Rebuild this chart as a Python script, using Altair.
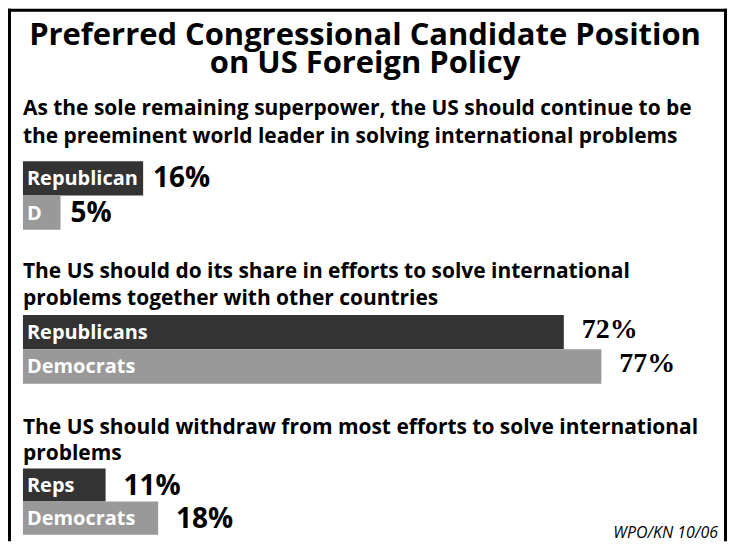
import altair as alt
import pandas as pd

# ---- data ----
title_lines = ["Preferred Congressional Candidate Position", "on US Foreign Policy"]
q1_lines = ["As the sole remaining superpower, the US should continue to be",
            "the preeminent world leader in solving international problems"]
q2_lines = ["The US should do its share in efforts to solve international",
            "problems together with other countries"]
q3_lines = ["The US should withdraw from most efforts to solve international",
            "problems"]
parties = ["Republicans", "Democrats"]
labels1 = ["Republican", "D"]
values1 = [16, 5]
labels2 = ["Republicans", "Democrats"]
values2 = [72, 77]
labels3 = ["Reps", "Democrats"]
values3 = [11, 18]
source_note = "WPO/KN 10/06"

# ---- style ----
FONT = "Open Sans"
DARK, LIGHT = "#333333", "#999999"
W = 690
XMAX = 91.6
x_scale = alt.Scale(domain=[0, XMAX], nice=False, zero=True)
color_scale = alt.Scale(domain=parties, range=[DARK, LIGHT])


def text_chart(text):
    return alt.Chart(pd.DataFrame({"t": [text]}))


def panel(labels, values, question, height, q_y, q_lh, val_font, val_size,
          val_dx, val_dy, extra=None):
    df = pd.DataFrame({
        "party": parties,
        "label": labels,
        "value": values,
        "pct": [f"{v}%" for v in values],
    })
    base = alt.Chart(df).encode(
        y=alt.Y("party:N", sort=parties, axis=None,
                scale=alt.Scale(paddingInner=0, paddingOuter=0))
    )
    bars = base.mark_bar().encode(
        x=alt.X("value:Q", scale=x_scale, axis=None),
        color=alt.Color("party:N", scale=color_scale, legend=None),
    )
    inner = base.mark_text(
        align="left", baseline="middle", dx=4, dy=1, color="white",
        font=FONT, fontWeight="bold", fontSize=20,
    ).encode(x=alt.value(0), text="label:N")
    outer = base.mark_text(
        align="left", baseline="middle", dx=val_dx, dy=val_dy, color="black",
        font=val_font, fontWeight="bold", fontSize=val_size,
    ).encode(x=alt.X("value:Q", scale=x_scale, axis=None), text="pct:N")
    q = text_chart("\n".join(question)).mark_text(
        align="left", baseline="alphabetic", lineBreak="\n", lineHeight=q_lh,
        font=FONT, fontWeight="bold", fontSize=21, color="black",
    ).encode(x=alt.value(0), y=alt.value(q_y), text="t:N")
    layers = [bars, inner, outer, q]
    if extra is not None:
        layers += extra
    return alt.layer(*layers).properties(width=W, height=height)


# header: main title and frame
header_text = text_chart("\n".join(title_lines)).mark_text(
    align="center", baseline="alphabetic", lineBreak="\n", lineHeight=28,
    font=FONT, fontWeight="bold", fontSize=31, color="black",
).encode(x=alt.value(343), y=alt.value(36), text="t:N")
frame = text_chart("")
border_left = frame.mark_rect(color="black").encode(
    x=alt.value(-15), x2=alt.value(-12), y=alt.value(0), y2=alt.value(534))
border_right = frame.mark_rect(color="black").encode(
    x=alt.value(703), x2=alt.value(706), y=alt.value(0), y2=alt.value(534))
border_top = frame.mark_rect(color="black").encode(
    x=alt.value(-15), x2=alt.value(706), y=alt.value(0), y2=alt.value(3))
header = alt.layer(header_text, border_left, border_right, border_top).properties(
    width=W, height=68)

source = text_chart(source_note).mark_text(
    align="right", baseline="alphabetic", font=FONT, fontStyle="italic",
    fontSize=16, color="black",
).encode(x=alt.value(697), y=alt.value(69.5), text="t:N")

p1 = panel(labels1, values1, q1_lines, 68.5, -46, 28, FONT, 28, 10, 1)
p2 = panel(labels2, values2, q2_lines, 69, -37, 27, "Liberation Serif", 28, 18, -2)
p3 = panel(labels3, values3, q3_lines, 66.5, -35, 27, FONT, 28, 18, 2, extra=[source])

chart = alt.vconcat(header, p1, p2, p3, spacing=85, bounds="flush").properties(
    padding=0, background="white"
).configure_view(stroke=None)

chart.save("out.html", embed_options={"renderer": "svg", "actions": False})
